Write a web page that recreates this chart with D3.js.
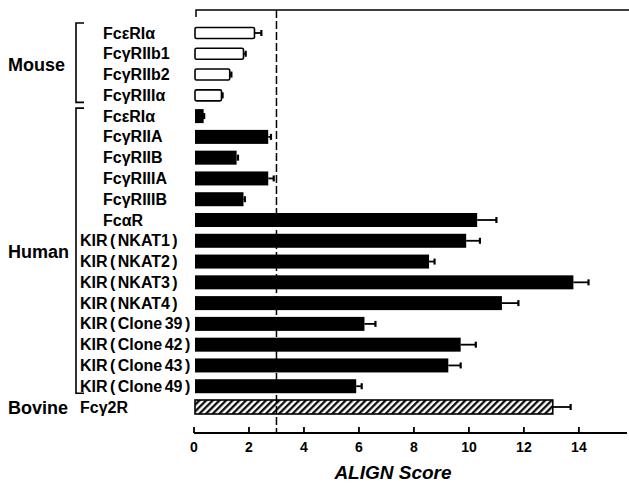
<!DOCTYPE html>
<html>
<head>
<meta charset="utf-8">
<script src="https://cdn.jsdelivr.net/npm/d3@7"></script>
<style>
  body { margin: 0; background: #fff; }
  text { font-family: "Liberation Sans", Arial, sans-serif; font-weight: bold; fill: #000; }
</style>
</head>
<body>
<div id="chart"></div>
<script>
// ALIGN scores by receptor, grouped by species
const mouseLabels = ["FcεRIα", "FcγRIIb1", "FcγRIIb2", "FcγRIIIα"];
const mouseScores = [2.2, 1.8, 1.3, 1.0];
const mouseErrors = [0.25, 0.08, 0.06, 0.04];

const humanLabels = ["FcεRIα", "FcγRIIA", "FcγRIIB", "FcγRIIIA", "FcγRIIIB", "FcαR",
  "KIR ( NKAT1 )", "KIR ( NKAT2 )", "KIR ( NKAT3 )", "KIR ( NKAT4 )",
  "KIR ( Clone 39 )", "KIR ( Clone 42 )", "KIR ( Clone 43 )", "KIR ( Clone 49 )"];
const humanScores = [0.35, 2.7, 1.55, 2.7, 1.8, 10.3, 9.9, 8.55, 13.8, 11.2, 6.2, 9.7, 9.25, 5.9];
const humanErrors = [0.02, 0.1, 0.05, 0.2, 0.05, 0.7, 0.5, 0.2, 0.55, 0.6, 0.4, 0.55, 0.45, 0.2];

const bovineLabels = ["Fcγ2R"];
const bovineScores = [13.05];
const bovineErrors = [0.65];

const xTicks = [0, 2, 4, 6, 8, 10, 12, 14];
const threshold = 3;

const width = 629, height = 487;

// build rows
let rows = [];
mouseLabels.forEach((l, i) => rows.push({group: "Mouse", label: l, v: mouseScores[i], e: mouseErrors[i]}));
humanLabels.forEach((l, i) => rows.push({group: "Human", label: l, v: humanScores[i], e: humanErrors[i]}));
bovineLabels.forEach((l, i) => rows.push({group: "Bovine", label: l, v: bovineScores[i], e: bovineErrors[i]}));
rows.forEach((d, i) => d.key = i);

const svg = d3.select("#chart").append("svg")
  .attr("width", width)
  .attr("height", height);

const x = d3.scaleLinear().domain([0, 15.75]).range([194, 627]);
const y = d3.scalePoint().domain(rows.map(d => d.key)).range([33, 407]);

// hatch for the bovine bar
const defs = svg.append("defs");
defs.append("pattern")
  .attr("id", "hatch")
  .attr("patternUnits", "userSpaceOnUse")
  .attr("width", 4.7).attr("height", 10)
  .attr("patternTransform", "rotate(45)")
  .append("line")
  .attr("x1", 1.2).attr("y1", 0).attr("x2", 1.2).attr("y2", 10)
  .attr("stroke", "#000").attr("stroke-width", 2.2);

// top frame line
svg.append("path")
  .attr("d", `M${x(0) + 2},17V10H${width}`)
  .attr("fill", "none").attr("stroke", "#000").attr("stroke-width", 1.5);

// threshold dashed line
svg.append("line")
  .attr("x1", x(threshold)).attr("x2", x(threshold))
  .attr("y1", 10).attr("y2", 433)
  .attr("stroke", "#000").attr("stroke-width", 1.5)
  .attr("stroke-dasharray", "8,3");

// bars
const bars = svg.append("g");
bars.selectAll("rect")
  .data(rows)
  .enter().append("rect")
  .attr("x", x(0) + 1)
  .attr("y", d => y(d.key) - (d.group == "Mouse" ? 5.5 : 7))
  .attr("width", d => x(d.v) - x(0) - 1)
  .attr("height", d => d.group == "Mouse" ? 11 : 14)
  .attr("rx", d => d.group == "Mouse" ? 1.5 : 0)
  .attr("fill", d => d.group == "Mouse" ? "#fff" : d.group == "Bovine" ? "url(#hatch)" : "#000")
  .attr("stroke", "#000")
  .attr("stroke-width", d => d.group == "Human" ? 0 : 1.6);

// error bars
const errs = svg.append("g").attr("stroke", "#000");
errs.selectAll("line.err")
  .data(rows)
  .enter().append("line")
  .attr("class", "err")
  .attr("x1", d => x(d.v)).attr("x2", d => x(d.v + d.e))
  .attr("y1", d => y(d.key)).attr("y2", d => y(d.key))
  .attr("stroke-width", 1.8);
errs.selectAll("line.cap")
  .data(rows)
  .enter().append("line")
  .attr("class", "cap")
  .attr("x1", d => x(d.v + d.e)).attr("x2", d => x(d.v + d.e))
  .attr("y1", d => y(d.key) - 3).attr("y2", d => y(d.key) + 3)
  .attr("stroke-width", 2.2);

// row labels
svg.append("g").selectAll("text")
  .data(rows)
  .enter().append("text")
  .attr("x", d => (d.label.startsWith("KIR") || d.group == "Bovine") ? 80 : 103)
  .attr("y", d => y(d.key) + 5.5)
  .style("font-size", "16px")
  .style("word-spacing", "-2px")
  .text(d => d.label);

// species groups and brackets
const groups = [
  {name: "Mouse", rows: rows.filter(d => d.group == "Mouse")},
  {name: "Human", rows: rows.filter(d => d.group == "Human")},
  {name: "Bovine", rows: rows.filter(d => d.group == "Bovine")}
];
groups.forEach((g, gi) => {
  const y0 = y(g.rows[0].key), y1 = y(g.rows[g.rows.length - 1].key);
  svg.append("text")
    .attr("x", 8)
    .attr("y", (y0 + y1) / 2 + 6.5)
    .style("font-size", "18px")
    .text(g.name);
  if (g.rows.length > 1) {
    const top = gi == 0 ? y0 - 10 : y0 - 8;
    svg.append("path")
      .attr("d", `M84,${top}H76V${y1 + 7}H84`)
      .attr("fill", "none").attr("stroke", "#000").attr("stroke-width", 1.6);
  }
});

// x axis, ticks pointing up
const axis = svg.append("g").attr("transform", "translate(0,433)");
axis.append("line")
  .attr("x1", x(0)).attr("x2", 627)
  .attr("stroke", "#000").attr("stroke-width", 1.8);
axis.selectAll("line.tick")
  .data(xTicks)
  .enter().append("line")
  .attr("class", "tick")
  .attr("x1", d => x(d)).attr("x2", d => x(d))
  .attr("y1", -6).attr("y2", 0)
  .attr("stroke", "#000").attr("stroke-width", 1.8);
axis.selectAll("text")
  .data(xTicks)
  .enter().append("text")
  .attr("x", d => x(d))
  .attr("y", 19)
  .attr("text-anchor", "middle")
  .style("font-size", "14px")
  .text(d => d);

svg.append("text")
  .attr("x", 393)
  .attr("y", 479)
  .attr("text-anchor", "middle")
  .style("font-size", "19px")
  .style("font-style", "italic")
  .text("ALIGN Score");
</script>
</body>
</html>
